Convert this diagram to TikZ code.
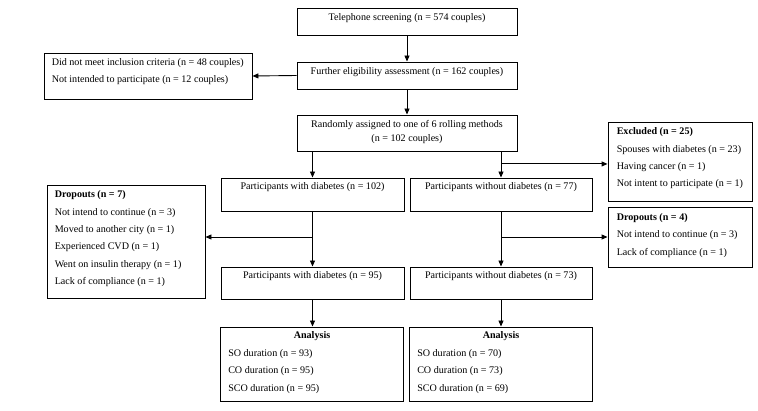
\documentclass[tikz,border=0pt]{standalone}
\usepackage{fontspec}
\setmainfont{Liberation Serif}
\usetikzlibrary{arrows.meta,calc}
\begin{document}
\begin{tikzpicture}[x=1pt,y=-1pt,
  font=\fontsize{10.1}{12}\selectfont,
  box/.style={draw, line width=0.9pt, inner sep=0pt},
  arr/.style={line width=0.9pt, -{Triangle[length=6pt,width=5pt]}},
  ln/.style={line width=0.9pt},
  ctxt/.style={inner sep=0pt},
  ltxt/.style={inner sep=0pt, anchor=north west, align=left, font=\fontsize{10.1}{17.4}\selectfont}]
\useasboundingbox (0,0) rectangle (758,411);
% boxes
\node[box, minimum width=220pt, minimum height=27pt] (tel) at (407,21.5) {};
\node[box, minimum width=220pt, minimum height=27pt] (fur) at (407,75.5) {};
\node[box, minimum width=208pt, minimum height=46pt] (dnm) at (148,76) {};
\node[box, minimum width=220pt, minimum height=36pt] (ran) at (407,133) {};
\node[box, minimum width=144pt, minimum height=79pt] (exc) at (680,161.5) {};
\node[box, minimum width=183pt, minimum height=33pt] (p102) at (312.5,194.5) {};
\node[box, minimum width=182pt, minimum height=33pt] (p77) at (501,194.5) {};
\node[box, minimum width=158pt, minimum height=113pt] (d7) at (126,241.5) {};
\node[box, minimum width=144pt, minimum height=60pt] (d4) at (680,237) {};
\node[box, minimum width=183pt, minimum height=32pt] (p95) at (312.5,283) {};
\node[box, minimum width=182pt, minimum height=32pt] (p73) at (501,283) {};
\node[box, minimum width=183pt, minimum height=74pt] (a1) at (312,364) {};
\node[box, minimum width=183pt, minimum height=74pt] (a2) at (501,364) {};
% texts
\node[ctxt] (ttel) at ($(tel.north)+(0,11)$) {Telephone screening (n = 574 couples)};
\node[ctxt] (tfur) at ($(fur.north)+(0,10.5)$) {Further eligibility assessment (n = 162 couples)};
\node[ltxt] (tdnm) at ($(dnm.north west)+(8,5.5)$) {Did not meet inclusion criteria (n = 48 couples)\\Not intended to participate (n = 12 couples)};
\node[ctxt, anchor=north, align=center, font=\fontsize{10.1}{14}\selectfont] (tran) at ($(ran.north)+(0,5.5)$) {Randomly assigned to one of 6 rolling methods\\(n = 102 couples)};
\node[ltxt] (texc) at ($(exc.north west)+(9,6)$) {\textbf{Excluded (n = 25)}\\Spouses with diabetes (n = 23)\\Having cancer (n = 1)\\Not intent to participate (n = 1)};
\node[ctxt] (tp102) at ($(p102.north)+(0,10)$) {Participants with diabetes (n = 102)};
\node[ctxt] (tp77) at ($(p77.north)+(0,10)$) {Participants without diabetes (n = 77)};
\node[ltxt] (td7) at ($(d7.north west)+(8,6)$) {\textbf{Dropouts (n = 7)}\\Not intend to continue (n = 3)\\Moved to another city (n = 1)\\Experienced CVD (n = 1)\\Went on insulin therapy (n = 1)\\Lack of compliance (n = 1)};
\node[ltxt] (td4) at ($(d4.north west)+(9,6.5)$) {\textbf{Dropouts (n = 4)}\\Not intend to continue (n = 3)\\Lack of compliance (n = 1)};
\node[ctxt] (tp95) at ($(p95.north)+(0,10)$) {Participants with diabetes (n = 95)};
\node[ctxt] (tp73) at ($(p73.north)+(0,10)$) {Participants without diabetes (n = 73)};
\node[ctxt] (ta1h) at ($(a1.north)+(0,10)$) {\textbf{Analysis}};
\node[ltxt] (ta1) at ($(a1.north west)+(8,22.5)$) {SO duration (n = 93)\\CO duration (n = 95)\\SCO duration (n = 95)};
\node[ctxt] (ta2h) at ($(a2.north)+(0,10)$) {\textbf{Analysis}};
\node[ltxt] (ta2) at ($(a2.north west)+(8,22.5)$) {SO duration (n = 70)\\CO duration (n = 73)\\SCO duration (n = 69)};
% connectors
\draw[arr] (tel.south) -- (fur.north);
\draw[arr] (fur.west) -- (dnm.east);
\draw[arr] (fur.south) -- (ran.north);
\draw[arr] (ran.south -| p102.north) -- (p102.north);
\draw[arr] (ran.south -| p77.north) -- (p77.north);
\draw[arr] (ran.south -| p77.north) ++(0,12.5) coordinate (bx) -- (bx -| exc.west);
\draw[arr] (p102.south) -- (p95.north);
\draw[arr] (p102.south |- d4.west) -- (d7.east |- d4.west);
\draw[arr] (p77.south) -- (p73.north);
\draw[arr] (p77.south |- d4.west) -- (d4.west);
\draw[arr] (p95.south) -- (p95.south |- a1.north);
\draw[arr] (p73.south) -- (p73.south |- a2.north);
\end{tikzpicture}
\end{document}
